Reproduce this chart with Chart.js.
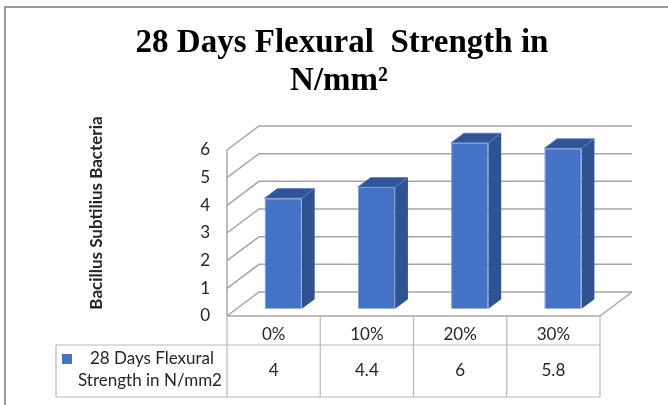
<!DOCTYPE html>
<html>
<head>
<meta charset="utf-8">
<script src="https://cdn.jsdelivr.net/npm/chart.js@4.4.1/dist/chart.umd.min.js"></script>
<style>
  html, body { margin: 0; padding: 0; background: #ffffff; }
  #wrap { width: 668px; height: 405px; }
</style>
</head>
<body>
<div id="wrap"><canvas id="c" width="668" height="405"></canvas></div>
<script>
// Mix proportions of bacteria and the measured flexural strength (N/mm2)
const categories = ['0%', '10%', '20%', '30%'];
const strength = [4, 4.4, 6, 5.8];
const yTicks = [0, 1, 2, 3, 4, 5, 6];
const seriesLines = ['28 Days Flexural', 'Strength in N/mm2'];
const titleLines = ['28 Days Flexural  Strength in', 'N/mm\u00B2'];
const axisTitle = 'Bacillus Subtilius Bacteria';

// Perspective offset of the back wall relative to the front plane
const DEPTH = { dx: 32, dy: -24 };
const BAR_FRONT = 0.3;   // where the bar front face sits in the depth
const BAR_DEPTH = 0.4;   // how deep each bar is

const GRID = '#a6a6a6';
const TABLE = '#b8b8b8';
const TEXT = '#262626';
const FONT = 'Lato, "Open Sans", sans-serif';
const TEXT_SIZE = 17;

const threeD = {
  id: 'threeD',
  beforeDatasetsDraw(chart) {
    const { ctx, chartArea: a, scales: { y } } = chart;
    const y0 = y.getPixelForValue(yTicks[0]);
    const yTop = y.getPixelForValue(yTicks[yTicks.length - 1]);

    // back wall and side wall gridlines
    ctx.save();
    ctx.strokeStyle = GRID;
    ctx.lineWidth = 1.5;
    yTicks.forEach(v => {
      const py = y.getPixelForValue(v);
      ctx.beginPath();
      ctx.moveTo(a.left, py);
      ctx.lineTo(a.left + DEPTH.dx, py + DEPTH.dy);
      ctx.lineTo(a.right + DEPTH.dx, py + DEPTH.dy);
      ctx.stroke();
    });
    // front edge of the side wall
    ctx.beginPath();
    ctx.moveTo(a.left, yTop);
    ctx.lineTo(a.left, y0);
    ctx.stroke();
    // right edge of the floor
    ctx.beginPath();
    ctx.moveTo(a.right, y0);
    ctx.lineTo(a.right + DEPTH.dx, y0 + DEPTH.dy);
    ctx.stroke();
    ctx.restore();

    // side and top faces of each bar
    const fx = DEPTH.dx * BAR_FRONT, fy = DEPTH.dy * BAR_FRONT;
    const bx = DEPTH.dx * BAR_DEPTH, by = DEPTH.dy * BAR_DEPTH;
    const meta = chart.getDatasetMeta(0);
    ctx.save();
    meta.data.forEach(bar => {
      const p = bar.getProps(['x', 'y', 'base', 'width'], true);
      const l = p.x - p.width / 2 + fx, r = p.x + p.width / 2 + fx;
      const t = p.y + fy, b = p.base + fy;
      ctx.fillStyle = '#2f5290';
      ctx.beginPath();
      ctx.moveTo(r, t); ctx.lineTo(r + bx, t + by); ctx.lineTo(r + bx, b + by); ctx.lineTo(r, b);
      ctx.closePath(); ctx.fill();
      ctx.fillStyle = '#2f5596';
      ctx.strokeStyle = '#5b7fc4';
      ctx.lineWidth = 0.8;
      ctx.beginPath();
      ctx.moveTo(l, t); ctx.lineTo(l + bx, t + by); ctx.lineTo(r + bx, t + by); ctx.lineTo(r, t);
      ctx.closePath(); ctx.fill(); ctx.stroke();
    });
    ctx.restore();

    // front faces are drawn by Chart.js, shifted into the depth
    ctx.save();
    ctx.translate(fx, fy);
  },
  afterDatasetsDraw(chart) {
    chart.ctx.restore();
  },
  afterDraw(chart) {
    const { ctx, chartArea: a, scales: { x, y } } = chart;
    const y0 = y.getPixelForValue(yTicks[0]);
    const rowMid = y0 + 29;
    const rowBot = y0 + 81;
    const legendLeft = 56;
    const step = (a.right - a.left) / categories.length;

    ctx.save();
    // outer frame
    ctx.strokeStyle = '#9a9a9a';
    ctx.lineWidth = 2;
    ctx.beginPath();
    ctx.moveTo(668, 7); ctx.lineTo(5, 7); ctx.lineTo(5, 405);
    ctx.stroke();

    // data table grid
    ctx.strokeStyle = GRID;
    ctx.lineWidth = 1.5;
    ctx.beginPath();
    ctx.moveTo(a.left, y0); ctx.lineTo(a.right, y0);
    ctx.stroke();
    ctx.strokeStyle = TABLE;
    ctx.lineWidth = 1.2;
    ctx.beginPath();
    ctx.moveTo(legendLeft, rowMid); ctx.lineTo(a.right, rowMid);
    ctx.moveTo(legendLeft, rowBot); ctx.lineTo(a.right, rowBot);
    ctx.moveTo(legendLeft, rowMid); ctx.lineTo(legendLeft, rowBot);
    for (let i = 0; i <= categories.length; i++) {
      const lx = a.left + i * step;
      ctx.moveTo(lx, y0); ctx.lineTo(lx, rowBot);
    }
    ctx.stroke();

    // legend key and series name
    ctx.fillStyle = '#4472c4';
    ctx.fillRect(62, 354, 10, 10);
    ctx.fillStyle = TEXT;
    ctx.font = TEXT_SIZE + 'px ' + FONT;
    ctx.textAlign = 'center';
    ctx.textBaseline = 'middle';
    ctx.fillText(seriesLines[0], 152, 359);
    ctx.fillText(seriesLines[1], 150, 381);

    // values row
    strength.forEach((v, i) => {
      ctx.fillText(String(v), x.getPixelForValue(i), (rowMid + rowBot) / 2);
    });

    // chart title
    ctx.fillStyle = '#000000';
    ctx.font = 'bold 33px "Liberation Serif", "Times New Roman", serif';
    ctx.textBaseline = 'alphabetic';
    ctx.fillText(titleLines[0], 342, 52);
    ctx.fillText(titleLines[1], 339, 90);

    // vertical axis title
    ctx.translate(97, 213);
    ctx.rotate(-Math.PI / 2);
    ctx.font = 'bold 17px ' + FONT;
    ctx.textBaseline = 'middle';
    ctx.fillStyle = TEXT;
    ctx.fillText(axisTitle, 0, 0);
    ctx.restore();
  }
};

new Chart(document.getElementById('c'), {
  type: 'bar',
  data: {
    labels: categories,
    datasets: [{
      label: seriesLines.join(' '),
      data: strength,
      backgroundColor: '#4472c4',
      borderColor: '#7b9ad6',
      borderWidth: 1,
      barPercentage: 0.4,
      categoryPercentage: 1,
      clip: false
    }]
  },
  options: {
    responsive: false,
    animation: false,
    devicePixelRatio: 1,
    layout: { padding: { left: 0, top: 150, right: 68, bottom: 0 } },
    plugins: {
      legend: { display: false },
      title: { display: false },
      tooltip: { enabled: false }
    },
    scales: {
      x: {
        grid: { display: false, drawTicks: false },
        border: { display: false },
        ticks: { color: TEXT, font: { family: FONT, size: TEXT_SIZE }, padding: 8 },
        afterFit(scale) { scale.height = 89; }
      },
      y: {
        min: 0,
        max: 6,
        grid: { display: false, drawTicks: false },
        border: { display: false },
        ticks: { stepSize: 1, color: TEXT, font: { family: FONT, size: TEXT_SIZE }, padding: 17 },
        afterFit(scale) { scale.width = 227; }
      }
    }
  },
  plugins: [threeD]
});
</script>
</body>
</html>
